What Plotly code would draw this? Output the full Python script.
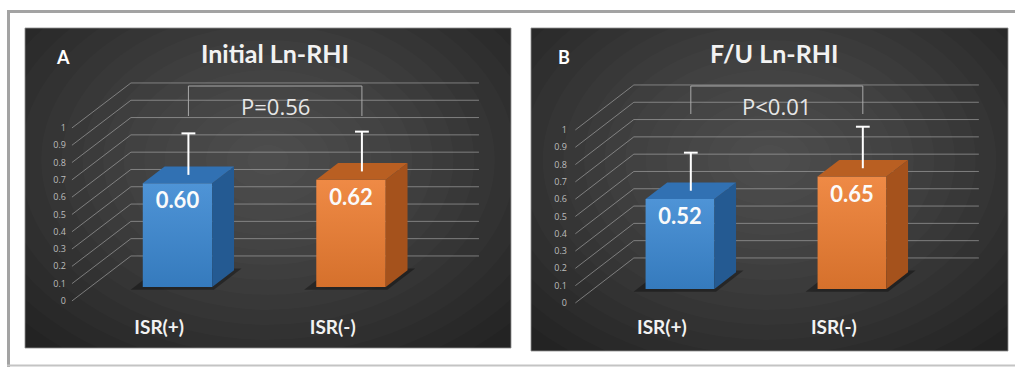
import plotly.graph_objects as go

W, H = 1015, 367

# ---------------- data ----------------
categories = ["ISR(+)", "ISR(-)"]
panel_letters = ["A", "B"]
panel_titles = ["Initial Ln-RHI", "F/U Ln-RHI"]
initial_means = [0.60, 0.62]
initial_sd = [0.24, 0.23]
fu_means = [0.52, 0.65]
fu_sd = [0.22, 0.24]
p_labels = ["P=0.56", "P<0.01"]
y_ticks = [0, 0.1, 0.2, 0.3, 0.4, 0.5, 0.6, 0.7, 0.8, 0.9, 1.0]
y_tick_labels = ["0", "0.1", "0.2", "0.3", "0.4", "0.5", "0.6", "0.7", "0.8", "0.9", "1"]

means = [initial_means, fu_means]
sds = [initial_sd, fu_sd]

# ---------------- styling / geometry ----------------
FRONT = ["#3b88d2", "#ed7d31"]
SIDE = ["#245a92", "#a5521c"]
TOP = ["#3171b3", "#b95f22"]

PANELS = [
    dict(box=(25, 28, 511, 348), ox=177.5, oy=287, sx=173.5, sy=173,
         title_x=275, letter_x=63, brk=(86, 116, 106)),
    dict(box=(531, 28, 1008, 351), ox=680, oy=289, sx=172, sy=173,
         title_x=774, letter_x=564, brk=(86, 114, 106)),
]
DX, DY = 0.34, 0.26
D_FRONT, D_BAR, D_WALL = -0.31, 0.37, 0.69
D_MID = D_BAR / 2
XL, XR = -0.503, 1.503
BW = 0.4
CAP = 0.04

fig = go.Figure()
shapes = []
annotations = []
layout = {}


def fx(X):
    return X / W


def fy(Y):
    return 1 - Y / H


def poly(xs, ys):
    return "M " + " L ".join(f"{a} {b}" for a, b in zip(xs, ys)) + " Z"


for p, g in enumerate(PANELS):
    x0, y0, x1, y1 = g["box"]
    ox, oy, sx, sy = g["ox"], g["oy"], g["sx"], g["sy"]
    xid = "x" if p == 0 else f"x{2 * p + 1}"
    yid = "y" if p == 0 else f"y{2 * p + 1}"
    xo_id, yo_id = f"x{2 * p + 2}", f"y{2 * p + 2}"
    xkey = "xaxis" if p == 0 else f"xaxis{2 * p + 1}"
    ykey = "yaxis" if p == 0 else f"yaxis{2 * p + 1}"

    xr = [(x0 - ox) / sx, (x1 - ox) / sx]
    yr = [(oy - y1) / sy, (oy - y0) / sy]
    xoff = D_FRONT * DX
    yoff = D_FRONT * DY

    layout[xkey] = dict(domain=[fx(x0), fx(x1)], range=xr, visible=False,
                        anchor=yid, fixedrange=True)
    layout[ykey] = dict(domain=[fy(y1), fy(y0)], range=yr, visible=False,
                        anchor=xid, fixedrange=True)
    layout[f"xaxis{2 * p + 2}"] = dict(
        overlaying=xid, range=[xr[0] - xoff, xr[1] - xoff], anchor="free",
        position=fy(314), side="bottom", tickvals=[0, 1], ticktext=categories,
        showgrid=False, zeroline=False, showline=False, ticks="", fixedrange=True,
        tickfont=dict(family="Lato", size=19, color="#f2f2f2", weight="bold"))
    layout[f"yaxis{2 * p + 2}"] = dict(
        overlaying=yid, range=[yr[0] - yoff, yr[1] - yoff], anchor="free",
        position=fx(g["letter_x"] + 3), side="left", tickvals=y_ticks,
        ticktext=y_tick_labels, showgrid=False, zeroline=False, showline=False,
        ticks="", fixedrange=True, tickfont=dict(family="Open Sans", size=9, color="#bdbdbd"))

    # background with radial light
    shapes.append(dict(type="rect", xref="paper", yref="paper", layer="below",
                       x0=fx(x0), x1=fx(x1), y0=fy(y1), y1=fy(y0),
                       fillcolor="#232323", line=dict(color="rgba(140,140,140,0.8)", width=1)))
    Xc, Yc = (x0 + x1) / 2, 160
    N = 16
    for k in range(N):
        f = 1 - k / N
        rx, ry = 330 * f, 240 * f
        cx, cy = (Xc - ox) / sx, (oy - Yc) / sy
        shapes.append(dict(type="circle", xref=xid, yref=yid, layer="below",
                           x0=cx - rx / sx, x1=cx + rx / sx,
                           y0=cy - ry / sy, y1=cy + ry / sy,
                           fillcolor="rgba(255,255,255,0.017)", line=dict(width=0)))

    # grid lines (front axis -> back wall -> across)
    for v in y_ticks:
        gx = [XL + D_FRONT * DX, XL + D_WALL * DX, XR + D_WALL * DX]
        gy = [v + D_FRONT * DY, v + D_WALL * DY, v + D_WALL * DY]
        shapes.append(dict(type="path", xref=xid, yref=yid, layer="below",
                           path="M " + " L ".join(f"{a} {b}" for a, b in zip(gx, gy)),
                           line=dict(color="rgba(175,175,175,0.6)", width=1)))

    vals = means[p]
    # floor shadows
    for i, v in enumerate(vals):
        a, b = i - BW / 2 - 0.05, i + BW / 2 + 0.03
        d0, d1 = -0.06, D_BAR + 0.04
        shapes.append(dict(type="path", xref=xid, yref=yid, layer="below",
                           path=poly([a + d0 * DX, b + d0 * DX, b + d1 * DX, a + d1 * DX],
                                     [d0 * DY, d0 * DY, d1 * DY, d1 * DY]),
                           fillcolor="rgba(0,0,0,0.35)", line=dict(width=0)))

    # front faces
    fig.add_trace(go.Bar(
        x=[0, 1], y=vals, width=BW, marker=dict(color=FRONT, line=dict(width=0)),
        xaxis=xid, yaxis=yid, texttemplate="%{y:.2f}", textposition="inside",
        insidetextanchor="end", textangle=0,
        insidetextfont=dict(family="Lato", size=22, color="white", weight="bold"),
        hoverinfo="skip", showlegend=False))

    for i, v in enumerate(vals):
        r, l = i + BW / 2, i - BW / 2
        fig.add_trace(go.Scatter(
            x=[l, r, r, l, l], y=[0, 0, v, v, 0], fill="toself", mode="lines",
            line=dict(width=0),
            fillgradient=dict(type="vertical",
                              colorscale=[[0, "rgba(0,0,0,0.10)"], [1, "rgba(255,255,255,0.10)"]]),
            xaxis=xid, yaxis=yid, hoverinfo="skip", showlegend=False))
        fig.add_trace(go.Scatter(
            x=[r, r + D_BAR * DX, r + D_BAR * DX, r, r],
            y=[0, D_BAR * DY, v + D_BAR * DY, v, 0],
            fill="toself", fillcolor=SIDE[i], mode="lines", line=dict(width=0),
            xaxis=xid, yaxis=yid, hoverinfo="skip", showlegend=False))
        fig.add_trace(go.Scatter(
            x=[l, r, r + D_BAR * DX, l + D_BAR * DX, l],
            y=[v, v, v + D_BAR * DY, v + D_BAR * DY, v],
            fill="toself", fillcolor=TOP[i], mode="lines", line=dict(width=0),
            xaxis=xid, yaxis=yid, hoverinfo="skip", showlegend=False))

    # upper error bars (stem + top cap) at mid depth
    ex, ey = [], []
    for i, (v, s) in enumerate(zip(vals, sds[p])):
        xc = i + D_MID * DX
        base = v + D_MID * DY
        ex += [xc, xc, None, xc - CAP, xc + CAP, None]
        ey += [base, base + s, None, base + s, base + s, None]
    fig.add_trace(go.Scatter(x=ex, y=ey, mode="lines", line=dict(color="white", width=2),
                             xaxis=xid, yaxis=yid, hoverinfo="skip", showlegend=False))

    fig.add_trace(go.Scatter(x=[0, 1], y=[0, 0], mode="markers", marker=dict(opacity=0, size=1),
                             xaxis=xo_id, yaxis=yo_id, hoverinfo="skip", showlegend=False))

    bt, bb, bt_text = g["brk"]
    xa, xb = 0 + D_MID * DX, 1 + D_MID * DX
    ya, yb = (oy - bt) / sy, (oy - bb) / sy
    shapes.append(dict(type="path", xref=xid, yref=yid, layer="above",
                       path=f"M {xa} {yb} L {xa} {ya} L {xb} {ya} L {xb} {yb}",
                       line=dict(color="#a9a9a9", width=1)))
    annotations.append(dict(x=(xa + xb) / 2, y=(oy - bt_text) / sy, xref=xid, yref=yid,
                            xanchor="center", yanchor="middle",
                            text=p_labels[p], showarrow=False,
                            font=dict(family="Open Sans", size=22, color="#e6e6e6")))

    annotations.append(dict(x=fx(g["title_x"]), y=fy(53), xref="paper", yref="paper",
                            xanchor="center", yanchor="middle",
                            text=panel_titles[p], showarrow=False,
                            font=dict(family="Lato", size=25, color="#f2f2f2", weight="bold")))
    annotations.append(dict(x=fx(g["letter_x"]), y=fy(57), xref="paper", yref="paper",
                            xanchor="center", yanchor="middle",
                            text=panel_letters[p], showarrow=False,
                            font=dict(family="Lato", size=18, color="white", weight="bold")))

shapes += [
    dict(type="line", xref="paper", yref="paper", x0=fx(7), x1=1, y0=fy(11.5), y1=fy(11.5),
         line=dict(color="#a3a3a3", width=3)),
    dict(type="line", xref="paper", yref="paper", x0=fx(8.5), x1=fx(8.5), y0=fy(10), y1=0,
         line=dict(color="#a3a3a3", width=3)),
    dict(type="line", xref="paper", yref="paper", x0=fx(7), x1=1, y0=fy(365.5), y1=fy(365.5),
         line=dict(color="#c4c4c4", width=2)),
]

fig.update_layout(
    width=W, height=H, margin=dict(l=0, r=0, t=0, b=0),
    paper_bgcolor="white", plot_bgcolor="rgba(0,0,0,0)",
    showlegend=False, barmode="overlay",
    shapes=shapes, annotations=annotations, **layout)

fig.write_html("out.html", config={"displayModeBar": False, "staticPlot": True},
               post_script="document.body.style.margin='0';document.body.style.overflow='hidden';")
